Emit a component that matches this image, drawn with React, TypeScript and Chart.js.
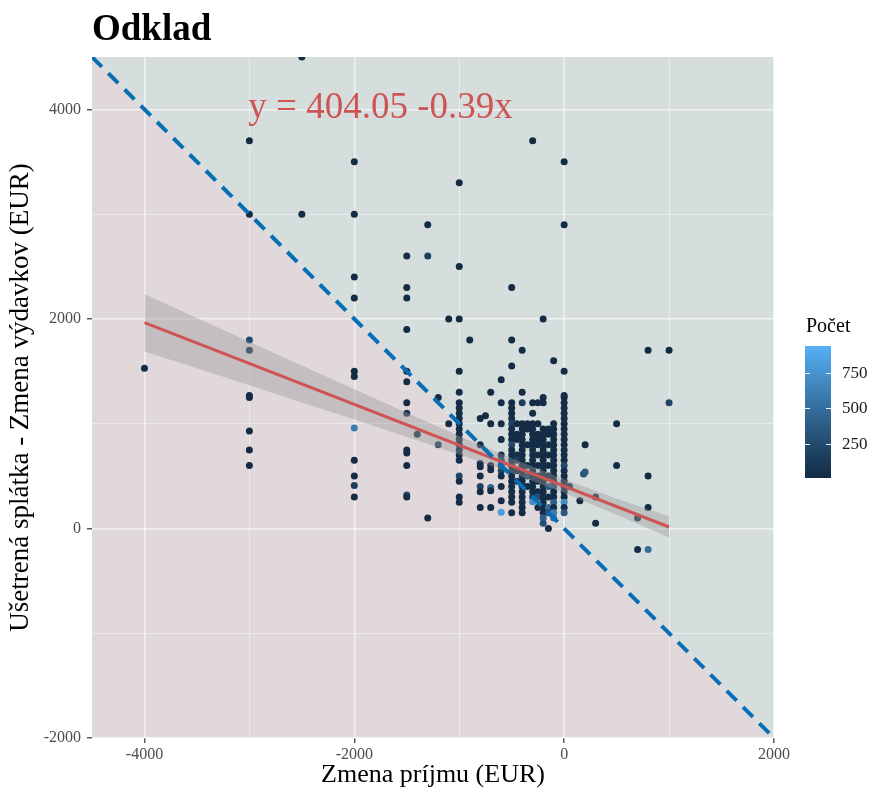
import React, { useEffect, useRef } from 'react';
import { Chart, registerables } from 'chart.js';

Chart.register(...registerables);

// ---------- data ----------
const X_MIN = -4500;
const X_MAX = 2000;
const Y_MIN = -2000;
const Y_MAX = 4500;
const xTickValues = [-4000, -3000, -2000, -1000, 0, 1000, 2000];
const yTickValues = [-2000, -1000, 0, 1000, 2000, 3000, 4000];
const xLabelValues = [-4000, -2000, 0, 2000];
const yLabelValues = [-2000, 0, 2000, 4000];

const chartTitle = 'Odklad';
const xTitle = 'Zmena príjmu (EUR)';
const yTitle = 'Ušetrená splátka - Zmena výdavkov (EUR)';
const equationText = 'y = 404.05 -0.39x';
const equationPos = [-1750, 4010];
const legendTitle = 'Počet';
const legendTicks = [250, 500, 750];
const countRange = [10, 940];

// dashed reference line (y = -x)
const refLineX = [-4500, 2000];
const refLineY = [4500, -2000];

// regression line
const regX = [-4000, 1000];
const regY = [1964, 14];

// confidence band
const bandX = [-4000, -3500, -3000, -2500, -2000, -1500, -1000, -500, 0, 500, 1000];
const bandUpper = [2238, 2010, 1782, 1555, 1328, 1104, 883, 669, 469, 286, 114];
const bandLower = [1690, 1528, 1366, 1203, 1040, 874, 705, 529, 339, 132, -86];

// scatter: [x, [[y, count], ...]]
const scatterColumns: [number, [number, number][]][] = [
  [-4000, [[1530, 20]]],
  [-3000, [[3700, 15], [3000, 15], [1800, 250], [1700, 150], [1270, 20], [1250, 20], [930, 15], [750, 15], [600, 15]]],
  [-2500, [[4500, 15], [3000, 20]]],
  [-2000, [[3500, 15], [3000, 20], [2400, 15], [2200, 15], [1500, 15], [1450, 20], [960, 600], [650, 15], [500, 20], [410, 150], [300, 20]]],
  [-1500, [[2600, 15], [2300, 15], [2200, 15], [1900, 15], [1500, 15], [1400, 20], [1200, 20], [1100, 100], [750, 30], [720, 20], [600, 15], [320, 250], [300, 30]]],
  [-1400, [[900, 100]]],
  [-1300, [[2900, 15], [2600, 150], [100, 15]]],
  [-1200, [[1250, 20], [800, 200]]],
  [-1100, [[2000, 15], [1000, 15]]],
  [-1000, [[3300, 15], [2500, 15], [2000, 15], [1500, 15], [1300, 20], [1200, 20], [1150, 30], [1100, 20], [1050, 25], [1000, 20], [950, 30], [900, 20], [850, 25], [800, 20], [750, 30], [700, 20], [650, 25], [500, 200], [450, 20], [300, 20], [250, 30]]],
  [-900, [[1800, 15]]],
  [-800, [[1050, 15], [800, 20], [620, 30], [590, 20], [500, 20], [400, 200], [350, 20], [200, 15]]],
  [-750, [[1075, 15]]],
  [-700, [[1300, 15], [1000, 15], [600, 20], [560, 30], [390, 450], [360, 20], [200, 15]]],
  [-600, [[1420, 15], [1200, 20], [1000, 20], [850, 30], [700, 20], [650, 200], [600, 30], [550, 200], [500, 20], [400, 30], [265, 20], [155, 800]]],
  [-500, [[2300, 15], [1800, 15], [1550, 15], [1200, 20], [1150, 30], [1100, 20], [1050, 25], [1000, 200], [950, 20], [900, 25], [850, 20], [800, 250], [750, 20], [700, 30], [650, 20], [600, 25], [550, 20], [500, 30], [450, 20], [400, 25], [350, 20], [300, 30], [250, 20], [150, 20]]],
  [-450, [[1000, 20], [900, 25], [850, 20], [700, 30], [650, 150], [550, 20], [450, 25]]],
  [-400, [[1700, 15], [1300, 15], [1200, 150], [1000, 20], [950, 25], [900, 20], [850, 30], [800, 20], [750, 25], [700, 20], [650, 30], [600, 20], [550, 25], [500, 20], [450, 30], [400, 20], [350, 25], [300, 20], [250, 30], [200, 20], [150, 20]]],
  [-350, [[1000, 20], [950, 25], [800, 20], [600, 30], [500, 200], [400, 20]]],
  [-300, [[3700, 15], [1200, 20], [1100, 20], [1000, 25], [950, 20], [900, 30], [850, 20], [800, 25], [750, 20], [700, 30], [650, 20], [600, 25], [550, 20], [500, 30], [450, 20], [400, 25], [350, 20], [300, 30], [255, 700]]],
  [-250, [[1200, 20], [1000, 25], [900, 20], [850, 30], [800, 20], [700, 25], [600, 20], [500, 30], [450, 20], [350, 25], [300, 300], [200, 20]]],
  [-200, [[2000, 15], [1250, 20], [1200, 20], [950, 20], [900, 25], [850, 20], [800, 30], [750, 20], [700, 25], [650, 20], [600, 30], [550, 20], [500, 25], [450, 20], [400, 30], [350, 20], [300, 25], [250, 20], [200, 30], [150, 20], [100, 400], [50, 300]]],
  [-150, [[950, 20], [900, 25], [800, 20], [700, 30], [600, 20], [500, 25], [400, 350], [300, 20], [200, 500], [150, 300], [0, 20]]],
  [-100, [[1600, 15], [1000, 20], [950, 25], [900, 20], [850, 30], [800, 20], [750, 25], [700, 20], [650, 30], [600, 20], [550, 25], [500, 20], [450, 30], [400, 300], [350, 20], [300, 25], [250, 400], [200, 20], [150, 600], [100, 500]]],
  [0, [[3500, 15], [2900, 15], [1500, 15], [1270, 20], [1250, 20], [1200, 25], [1150, 20], [1100, 30], [1050, 20], [1000, 25], [950, 20], [900, 30], [850, 20], [800, 25], [750, 20], [700, 30], [650, 20], [600, 250], [550, 20], [500, 25], [450, 20], [400, 30], [350, 20], [300, 25], [250, 700], [200, 20], [150, 350]]],
  [50, [[400, 100]]],
  [150, [[265, 15]]],
  [185, [[520, 300]]],
  [200, [[800, 15], [540, 350]]],
  [300, [[300, 100], [50, 15]]],
  [500, [[1000, 15], [600, 15]]],
  [700, [[100, 100], [-200, 15]]],
  [800, [[1700, 15], [500, 15], [200, 15], [-200, 500]]],
  [1000, [[1700, 15], [1200, 200]]],
];

// ---------- colour helpers (ggplot-like Lab gradient) ----------
const LOW = [19, 43, 67];
const HIGH = [86, 177, 247];
const toLin = (c: number) => { c /= 255; return c <= 0.04045 ? c / 12.92 : Math.pow((c + 0.055) / 1.055, 2.4); };
const fromLin = (c: number) => { const v = c <= 0.0031308 ? 12.92 * c : 1.055 * Math.pow(c, 1 / 2.4) - 0.055; return Math.round(Math.max(0, Math.min(1, v)) * 255); };
const fLab = (t: number) => (t > 0.008856 ? Math.cbrt(t) : 7.787 * t + 16 / 116);
const fInv = (t: number) => (t * t * t > 0.008856 ? t * t * t : (t - 16 / 116) / 7.787);
function rgbToLab(rgb: number[]) {
  const R = toLin(rgb[0]), G = toLin(rgb[1]), B = toLin(rgb[2]);
  const X = (0.4124 * R + 0.3576 * G + 0.1805 * B) / 0.95047;
  const Y = 0.2126 * R + 0.7152 * G + 0.0722 * B;
  const Z = (0.0193 * R + 0.1192 * G + 0.9505 * B) / 1.08883;
  const fx = fLab(X), fy = fLab(Y), fz = fLab(Z);
  return [116 * fy - 16, 500 * (fx - fy), 200 * (fy - fz)];
}
function labToRgb(lab: number[]) {
  const fy = (lab[0] + 16) / 116;
  const fx = fy + lab[1] / 500;
  const fz = fy - lab[2] / 200;
  const X = fInv(fx) * 0.95047, Y = fInv(fy), Z = fInv(fz) * 1.08883;
  const R = 3.2406 * X - 1.5372 * Y - 0.4986 * Z;
  const G = -0.9689 * X + 1.8758 * Y + 0.0415 * Z;
  const B = 0.0557 * X - 0.204 * Y + 1.057 * Z;
  return [fromLin(R), fromLin(G), fromLin(B)];
}
const LOW_LAB = rgbToLab(LOW);
const HIGH_LAB = rgbToLab(HIGH);
function countColor(c: number) {
  const t = Math.max(0, Math.min(1, (c - countRange[0]) / (countRange[1] - countRange[0])));
  const lab = LOW_LAB.map((v, i) => v + (HIGH_LAB[i] - v) * t);
  const rgb = labToRgb(lab);
  return `rgb(${rgb[0]},${rgb[1]},${rgb[2]})`;
}

const FONT = "'Liberation Serif', 'DejaVu Serif', serif";

export default function App() {
  const ref = useRef<HTMLCanvasElement | null>(null);

  useEffect(() => {
    const canvas = ref.current;
    if (!canvas) return;

    const pts: { x: number; y: number }[] = [];
    const cols: string[] = [];
    scatterColumns.forEach(([x, arr]) => {
      arr.forEach(([y, c]) => {
        pts.push({ x, y });
        cols.push(countColor(c));
      });
    });

    const decor = {
      id: 'decor',
      beforeDraw(chart: any) {
        const { ctx, chartArea: a, scales } = chart;
        const xs = scales.x, ys = scales.y;
        const p0 = [xs.getPixelForValue(refLineX[0]), ys.getPixelForValue(refLineY[0])];
        const p1 = [xs.getPixelForValue(refLineX[1]), ys.getPixelForValue(refLineY[1])];
        ctx.save();
        ctx.fillStyle = '#ffffff';
        ctx.fillRect(0, 0, chart.width, chart.height);
        ctx.beginPath();
        ctx.rect(a.left, a.top, a.right - a.left, a.bottom - a.top);
        ctx.clip();
        ctx.fillStyle = 'rgb(213,222,221)';
        ctx.beginPath();
        ctx.moveTo(p0[0], p0[1]);
        ctx.lineTo(xs.getPixelForValue(X_MAX), ys.getPixelForValue(Y_MAX));
        ctx.lineTo(p1[0], p1[1]);
        ctx.closePath();
        ctx.fill();
        ctx.fillStyle = 'rgb(225,216,220)';
        ctx.beginPath();
        ctx.moveTo(p0[0], p0[1]);
        ctx.lineTo(xs.getPixelForValue(X_MIN), ys.getPixelForValue(Y_MIN));
        ctx.lineTo(p1[0], p1[1]);
        ctx.closePath();
        ctx.fill();
        ctx.restore();
      },
      afterDraw(chart: any) {
        const { ctx, chartArea: a, scales } = chart;
        const xs = scales.x, ys = scales.y;
        ctx.save();
        ctx.fillStyle = '#000000';
        ctx.font = `bold 37px ${FONT}`;
        ctx.textAlign = 'left';
        ctx.textBaseline = 'alphabetic';
        ctx.fillText(chartTitle, a.left, 40);
        ctx.fillStyle = '#CD5555';
        ctx.font = `37px ${FONT}`;
        ctx.textAlign = 'center';
        ctx.textBaseline = 'middle';
        ctx.fillText(equationText, xs.getPixelForValue(equationPos[0]), ys.getPixelForValue(equationPos[1]));
        const lx = a.right + 31;
        const barW = 26;
        const barTop = 346;
        const barBot = 478;
        ctx.fillStyle = '#000000';
        ctx.font = `20px ${FONT}`;
        ctx.textAlign = 'left';
        ctx.textBaseline = 'middle';
        ctx.fillText(legendTitle, lx + 1, 327);
        const valToY = (v: number) => barBot - ((v - countRange[0]) / (countRange[1] - countRange[0])) * (barBot - barTop);
        for (let yy = barTop; yy < barBot; yy++) {
          const v = countRange[0] + ((barBot - yy - 0.5) / (barBot - barTop)) * (countRange[1] - countRange[0]);
          ctx.fillStyle = countColor(v);
          ctx.fillRect(lx, yy, barW, 1);
        }
        ctx.strokeStyle = 'rgba(255,255,255,0.9)';
        ctx.lineWidth = 1;
        ctx.font = `17px ${FONT}`;
        ctx.fillStyle = '#1a1a1a';
        legendTicks.forEach((t) => {
          const y = Math.round(valToY(t)) + 0.5;
          ctx.beginPath();
          ctx.moveTo(lx, y);
          ctx.lineTo(lx + 5, y);
          ctx.moveTo(lx + barW - 5, y);
          ctx.lineTo(lx + barW, y);
          ctx.stroke();
          ctx.fillText(String(t), lx + barW + 11, y);
        });
        ctx.restore();
      },
    };

    const makeAxis = (min: number, max: number, tickValues: number[], labelValues: number[], pad: number) => {
      const isMajor = (v: number) => labelValues.indexOf(v) >= 0;
      return {
        type: 'linear' as const,
        min,
        max,
        border: { display: false },
        afterBuildTicks: (s: any) => { s.ticks = tickValues.map((v) => ({ value: v })); },
        grid: {
          color: (c: any) => (c.tick && isMajor(c.tick.value) ? 'rgba(255,255,255,0.6)' : 'rgba(255,255,255,0.45)'),
          lineWidth: (c: any) => (c.tick && isMajor(c.tick.value) ? 1.6 : 0.9),
          tickColor: (c: any) => (c.tick && isMajor(c.tick.value) ? '#333333' : 'rgba(0,0,0,0)'),
          tickLength: 5,
          tickWidth: 1.2,
          drawTicks: true,
        },
        ticks: {
          autoSkip: false,
          maxRotation: 0,
          minRotation: 0,
          padding: pad,
          color: '#4d4d4d',
          font: { family: FONT, size: 16 },
          callback: (v: any) => (isMajor(Number(v)) ? String(v) : ''),
        },
      };
    };

    const chart = new Chart(canvas, {
      type: 'scatter',
      data: {
        datasets: [
          {
            type: 'line',
            data: refLineX.map((x, i) => ({ x, y: refLineY[i] })),
            borderColor: '#0a6eb4',
            borderWidth: 4,
            borderDash: [14, 9],
            pointRadius: 0,
            fill: false,
            order: 0,
          } as any,
          {
            type: 'line',
            data: regX.map((x, i) => ({ x, y: regY[i] })),
            borderColor: '#CD5555',
            borderWidth: 3,
            pointRadius: 0,
            fill: false,
            order: 1,
          } as any,
          {
            type: 'line',
            data: bandX.map((x, i) => ({ x, y: bandUpper[i] })),
            borderColor: 'rgba(0,0,0,0)',
            borderWidth: 0,
            pointRadius: 0,
            backgroundColor: 'rgba(153,153,153,0.4)',
            fill: '+1',
            order: 2,
          } as any,
          {
            type: 'line',
            data: bandX.map((x, i) => ({ x, y: bandLower[i] })),
            borderColor: 'rgba(0,0,0,0)',
            borderWidth: 0,
            pointRadius: 0,
            fill: false,
            order: 3,
          } as any,
          {
            type: 'scatter',
            data: pts,
            pointRadius: 3.5,
            pointHoverRadius: 3.5,
            pointBackgroundColor: cols,
            pointBorderWidth: 0,
            borderWidth: 0,
            order: 4,
          } as any,
        ],
      },
      options: {
        animation: false,
        responsive: false,
        maintainAspectRatio: false,
        events: [],
        layout: { padding: { left: 0, top: 57, right: 97, bottom: 0 } },
        plugins: {
          legend: { display: false },
          tooltip: { enabled: false },
          title: { display: false },
        },
        scales: {
          x: {
            ...makeAxis(X_MIN, X_MAX, xTickValues, xLabelValues, 2),
            position: 'bottom',
            afterFit: (s: any) => { s.height = 53; },
            title: {
              display: true,
              text: xTitle,
              color: '#000000',
              font: { family: FONT, size: 26 },
              padding: { top: 0, bottom: 0 },
            },
          },
          y: {
            ...makeAxis(Y_MIN, Y_MAX, yTickValues, yLabelValues, 6),
            position: 'left',
            afterFit: (s: any) => { s.width = 92; },
            title: {
              display: true,
              text: yTitle,
              color: '#000000',
              font: { family: FONT, size: 27 },
              padding: { top: 5, bottom: 0 },
            },
          },
        },
      } as any,
      plugins: [decor],
    });

    return () => chart.destroy();
  }, []);

  return (
    <div style={{ position: 'fixed', left: 0, top: 0, width: 871, height: 791, background: '#fff' }}>
      <canvas ref={ref} width={871} height={791} style={{ width: 871, height: 791, display: 'block' }} />
    </div>
  );
}
